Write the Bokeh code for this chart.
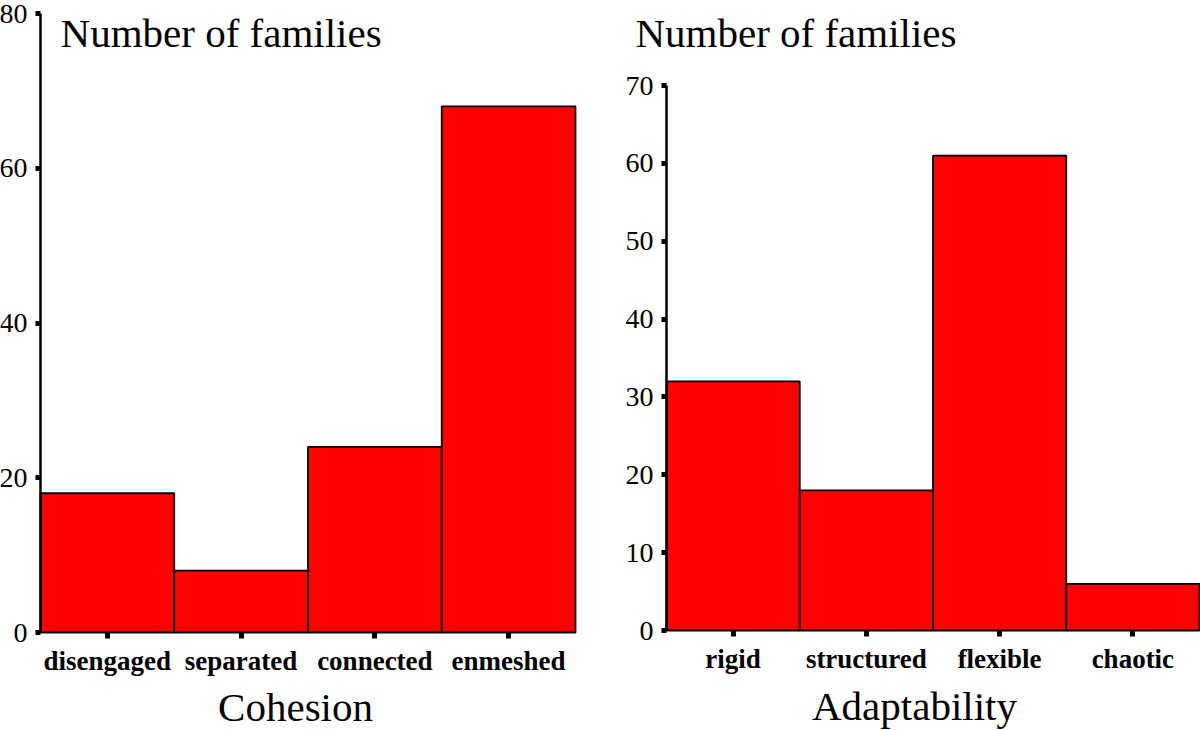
from bokeh.plotting import figure
from bokeh.layouts import row
from bokeh.models import Range1d, FixedTicker, Label, ColumnDataSource
from bokeh.embed import file_html
from bokeh.resources import INLINE

# ---- data ----
cohesion_cats = ["disengaged", "separated", "connected", "enmeshed"]
cohesion_vals = [18, 8, 24, 68]
adapt_cats = ["rigid", "structured", "flexible", "chaotic"]
adapt_vals = [32, 18, 61, 6]
cohesion_yticks = [0, 20, 40, 60, 80]
adapt_yticks = [0, 10, 20, 30, 40, 50, 60, 70]
y_title = "Number of families"
cohesion_title = "Cohesion"
adapt_title = "Adaptability"

SERIF = "Liberation Serif"


def make_panel(cats, vals, yticks, yaxis_max, x_range, y_range, width,
               ytitle_pos, xtitle, xtitle_pos):
    n = len(cats)
    p = figure(width=width, height=730, output_backend="svg", toolbar_location=None,
               x_range=x_range, y_range=y_range,
               min_border_left=0, min_border_right=0,
               min_border_top=0, min_border_bottom=0)
    p.outline_line_color = None
    p.xgrid.visible = False
    p.ygrid.visible = False
    p.background_fill_color = "white"
    p.border_fill_color = "white"

    centers = [i + 0.5 for i in range(n)]
    src = ColumnDataSource(dict(x=centers, top=vals, cat=cats))
    p.vbar(x="x", top="top", bottom=0, width=1.0, source=src,
           fill_color="#FF0000", line_color="black", line_width=1.8)

    # y axis, pinned at x = 0
    ya = p.yaxis[0]
    ya.fixed_location = 0
    ya.ticker = FixedTicker(ticks=yticks)
    ya.bounds = (0, yaxis_max)
    ya.minor_tick_line_color = None
    ya.major_tick_in = 0
    ya.major_tick_out = 5
    ya.major_tick_line_width = 5
    ya.axis_line_width = 2.5
    ya.major_label_standoff = 8
    ya.major_label_text_font = SERIF
    ya.major_label_text_font_size = "28px"
    ya.major_label_text_color = "black"

    # x axis, pinned at y = 0
    xa = p.xaxis[0]
    xa.fixed_location = 0
    xa.ticker = FixedTicker(ticks=centers)
    xa.major_label_overrides = {c: cat for c, cat in zip(centers, cats)}
    xa.minor_tick_line_color = None
    xa.axis_line_color = None
    xa.major_tick_in = 0
    xa.major_tick_out = 6
    xa.major_tick_line_width = 5
    xa.major_label_standoff = 7
    xa.major_label_text_font = SERIF
    xa.major_label_text_font_style = "bold"
    xa.major_label_text_font_size = "27px"
    xa.major_label_text_color = "black"

    p.add_layout(Label(x=ytitle_pos[0], y=ytitle_pos[1], text=y_title,
                       text_font=SERIF, text_font_size="41px", text_align="left",
                       text_baseline="alphabetic", text_color="black"))
    p.add_layout(Label(x=xtitle_pos[0], y=xtitle_pos[1], text=xtitle,
                       text_font=SERIF, text_font_size="41px", text_align="center",
                       text_baseline="alphabetic", text_color="black"))
    return p


left = make_panel(cohesion_cats, cohesion_vals, cohesion_yticks, 80,
                  Range1d(-0.299, 4.187), Range1d(-12.665, 81.68), 600,
                  (0.15, 77.5), cohesion_title, (1.907, -9.65))
right = make_panel(adapt_cats, adapt_vals, adapt_yticks, 70,
                   Range1d(-0.4953, 4.0075), Range1d(-12.844, 80.92), 600,
                   (-0.233, 76.8), adapt_title, (1.861, -9.7))

layout = row(left, right)

open("out.html", "w").write(file_html(layout, INLINE))
